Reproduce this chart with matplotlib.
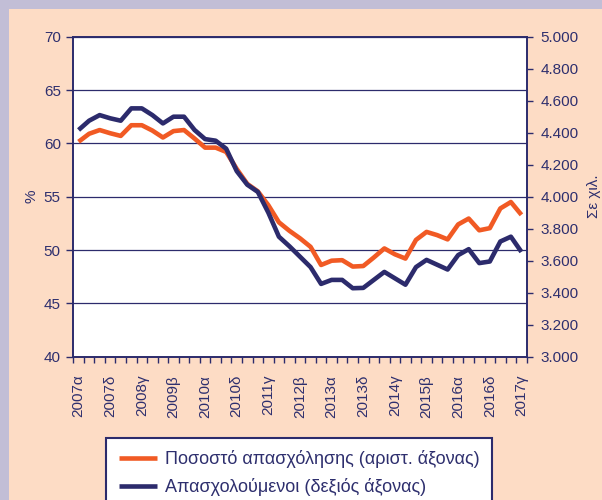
import matplotlib
matplotlib.use("Agg")
import matplotlib.pyplot as plt
from matplotlib.patches import Rectangle
from matplotlib.ticker import FixedLocator, FuncFormatter

# ---- data ----
quarters = []
greek_q = ["α", "β", "γ", "δ"]
for year in range(2007, 2018):
    for q in greek_q:
        quarters.append(f"{year}{q}")
quarters = quarters[:43]  # 2007α ... 2017γ

employment_rate = [60.15, 60.9, 61.25, 60.95, 60.7, 61.7, 61.7, 61.2, 60.55, 61.15,
                   61.25, 60.45, 59.6, 59.6, 59.2, 57.6, 56.2, 55.5, 54.2, 52.6,
                   51.8, 51.1, 50.3, 48.6, 49.0, 49.05, 48.45, 48.5, 49.3, 50.15,
                   49.6, 49.2, 50.95, 51.7, 51.4, 51.0, 52.4, 52.95, 51.85, 52.05,
                   53.9, 54.5, 53.3]
employed = [4417, 4475, 4510, 4490, 4475, 4552, 4552, 4510, 4458, 4500,
            4500, 4417, 4360, 4350, 4300, 4160, 4075, 4030, 3900, 3750,
            3690, 3625, 3560, 3455, 3480, 3480, 3428, 3430, 3480, 3530,
            3490, 3450, 3560, 3605, 3575, 3545, 3635, 3672, 3585, 3595,
            3720, 3750, 3655]

label_rate = "Ποσοστό απασχόλησης (αριστ. άξονας)"
label_emp = "Απασχολούμενοι (δεξιός άξονας)"

NAVY = "#2c2b6c"
TEXT = "#2e2f6e"
ORANGE = "#f15a24"
PEACH = "#fddcc5"
PURPLE = "#c2bed6"

plt.rcParams["font.family"] = ["Liberation Sans", "DejaVu Sans"]

W, H = 602, 500
fig = plt.figure(figsize=(W / 100, H / 100), dpi=100)
fig.patch.set_facecolor(PEACH)
fig.patches.append(Rectangle((0, 0), 9 / W, 1, transform=fig.transFigure,
                             facecolor=PURPLE, edgecolor="none", zorder=-10))
fig.patches.append(Rectangle((0, 1 - 9 / H), 1, 9 / H, transform=fig.transFigure,
                             facecolor=PURPLE, edgecolor="none", zorder=-10))

ax = fig.add_axes([73.3 / W, 1 - 356.7 / H, (526.7 - 73.3) / W, (356.7 - 36.7) / H])
ax.set_facecolor("white")
ax2 = ax.twinx()

x = list(range(len(quarters)))
l1, = ax.plot(x, employment_rate, color=ORANGE, lw=3.3, solid_joinstyle="round",
              solid_capstyle="butt", zorder=3)
l2, = ax2.plot(x, employed, color=NAVY, lw=3.3, solid_joinstyle="round",
               solid_capstyle="butt", zorder=3)

ax.set_xlim(-0.5, len(quarters) - 0.5)
ax.set_ylim(40, 70)
ax2.set_ylim(3000, 5000)

ax.set_yticks([40, 45, 50, 55, 60, 65, 70])
ax2.set_yticks(list(range(3000, 5001, 200)))
ax2.yaxis.set_major_formatter(FuncFormatter(lambda v, p: f"{v:,.0f}".replace(",", ".")))

ax.grid(axis="y", color=NAVY, lw=0.9)
ax.set_axisbelow(True)

major = list(range(0, len(quarters), 3))
ax.xaxis.set_major_locator(FixedLocator(major))
ax.set_xticklabels([quarters[i] for i in major], rotation=90)
ax.xaxis.set_minor_locator(FixedLocator([i - 0.5 for i in range(len(quarters) + 1)]))
ax.tick_params(axis="x", which="major", length=0, pad=13, labelsize=11, labelcolor=TEXT)
ax.tick_params(axis="x", which="minor", length=4, width=1, color=NAVY, direction="out")
ax.tick_params(axis="y", length=5, width=1, color=NAVY, labelsize=11, labelcolor=TEXT, pad=4)
ax2.tick_params(axis="y", length=4, width=1, color=NAVY, labelsize=11, labelcolor=TEXT, pad=6)

for a in (ax, ax2):
    for s in a.spines.values():
        s.set_color(NAVY)
        s.set_linewidth(1.2)

ax.set_ylabel("%", color=TEXT, fontsize=11, labelpad=4)
ax2.set_ylabel("Σε χιλ.", color=TEXT, fontsize=11, rotation=90, labelpad=6)

leg = fig.legend([l1, l2], [label_rate, label_emp], loc="upper left",
                 bbox_to_anchor=(106 / W, 1 - 437.7 / H), fontsize=13,
                 frameon=True, fancybox=False, edgecolor=NAVY, facecolor="white",
                 framealpha=1, handlelength=2.1, handletextpad=0.45,
                 labelspacing=0.55, borderpad=0.7, borderaxespad=0)
leg.get_frame().set_linewidth(1.5)
for t in leg.get_texts():
    t.set_color(TEXT)

fig.savefig("out.png", dpi=100, facecolor=fig.get_facecolor())
